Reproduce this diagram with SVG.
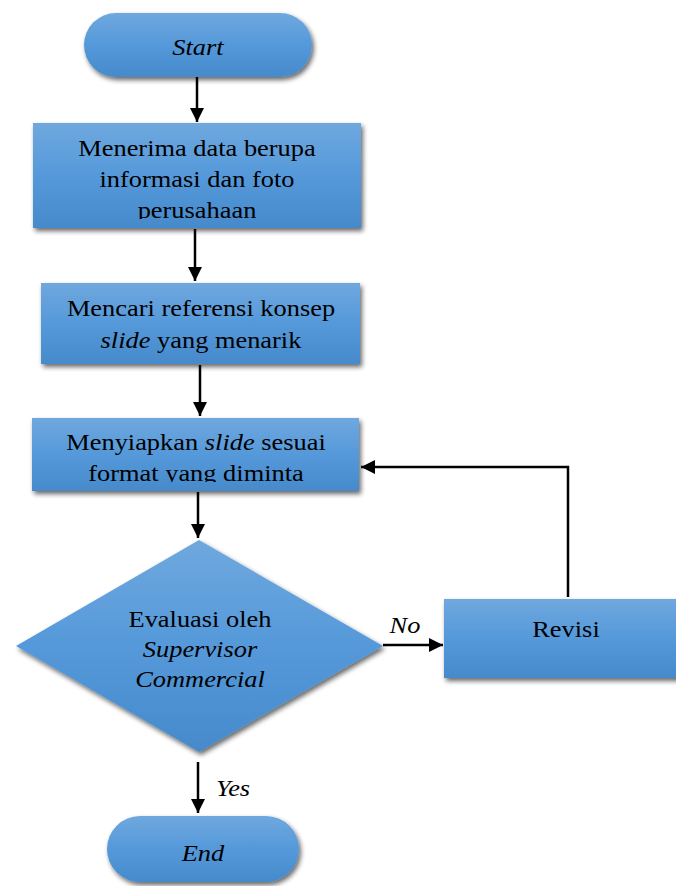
<svg xmlns="http://www.w3.org/2000/svg" width="676" height="886" viewBox="0 0 676 886">
<defs>
<linearGradient id="g" x1="0" y1="0" x2="0" y2="1">
<stop offset="0" stop-color="#6fa8de"/>
<stop offset="0.5" stop-color="#5599da"/>
<stop offset="1" stop-color="#468acb"/>
</linearGradient>
<filter id="sh" x="-10%" y="-10%" width="125%" height="130%">
<feGaussianBlur in="SourceAlpha" stdDeviation="2.5"/>
<feOffset dx="2" dy="3" result="b"/>
<feComponentTransfer><feFuncA type="linear" slope="0.6"/></feComponentTransfer>
<feMerge><feMergeNode/><feMergeNode in="SourceGraphic"/></feMerge>
</filter>
<marker id="ah" viewBox="0 0 10 10" refX="10" refY="5" markerWidth="5.6" markerHeight="5.6" markerUnits="strokeWidth" orient="auto">
<path d="M0,0 L10,5 L0,10 Z" fill="#000"/>
</marker>
<clipPath id="c1"><rect x="33" y="123" width="328" height="96"/></clipPath>
<clipPath id="c3"><rect x="32" y="418" width="327" height="64"/></clipPath>
</defs>
<style>
.n{fill:url(#g);filter:url(#sh)}
.t{font-family:'Liberation Serif','Times New Roman',serif;font-size:24px;fill:#000;text-anchor:middle}
.i{font-style:italic}
.c{stroke:#000;stroke-width:2.5;fill:none;marker-end:url(#ah)}
</style>
<g id="connectors">
<line class="c" x1="197" y1="77" x2="197" y2="122"/>
<line class="c" x1="195" y1="229" x2="195" y2="281"/>
<line class="c" x1="200" y1="365" x2="200" y2="416"/>
<line class="c" x1="198" y1="492" x2="198" y2="538"/>
<line class="c" x1="383" y1="645" x2="443" y2="645"/>
<polyline class="c" points="568,597 568,467 361,467"/>
<line class="c" x1="198" y1="762" x2="198" y2="813"/>
<text class="t i" x="405" y="633" transform="matrix(1.1 0 0 1 -40.5 0)">No</text>
<text class="t i" x="233" y="796" transform="matrix(1.1 0 0 1 -23.3 0)">Yes</text>
</g>
<g id="start">
<rect class="n" x="84" y="13" width="228" height="64" rx="32"/>
<text class="t i" x="198" y="55" transform="matrix(1.1 0 0 1 -19.8 0)">Start</text>
</g>
<g id="box1">
<rect class="n" x="33" y="123" width="328" height="105"/>
<g clip-path="url(#c1)">
<g transform="matrix(1.1 0 0 1 -19.7 0)">
<text class="t" x="197" y="156">Menerima data berupa</text>
<text class="t" x="197" y="187">informasi dan foto</text>
<text class="t" x="197" y="218">perusahaan</text>
</g>
</g>
</g>
<g id="box2">
<rect class="n" x="41" y="283" width="319" height="81"/>
<g transform="matrix(1.1 0 0 1 -20.1 0)">
<text class="t" x="201" y="316">Mencari referensi konsep</text>
<text class="t" x="201" y="348"><tspan class="i">slide</tspan> yang menarik</text>
</g>
</g>
<g id="box3">
<rect class="n" x="32" y="418" width="327" height="73"/>
<g clip-path="url(#c3)">
<g transform="matrix(1.1 0 0 1 -19.6 0)">
<text class="t" x="196" y="450">Menyiapkan <tspan class="i">slide</tspan> sesuai</text>
<text class="t" x="196" y="481">format yang diminta</text>
</g>
</g>
</g>
<g id="decision">
<polygon class="n" points="199,540 383,646 199,752 16,646"/>
<g transform="matrix(1.1 0 0 1 -20 0)">
<text class="t" x="200" y="627">Evaluasi oleh</text>
<text class="t i" x="200" y="657">Supervisor</text>
<text class="t i" x="200" y="687">Commercial</text>
</g>
</g>
<g id="revisi">
<rect class="n" x="444" y="599" width="240" height="79"/>
<text class="t" x="566" y="637" transform="matrix(1.1 0 0 1 -56.6 0)">Revisi</text>
</g>
<g id="end">
<rect class="n" x="107" y="816" width="192" height="66" rx="33"/>
<text class="t i" x="203" y="861" transform="matrix(1.1 0 0 1 -20.3 0)">End</text>
</g>
</svg>
